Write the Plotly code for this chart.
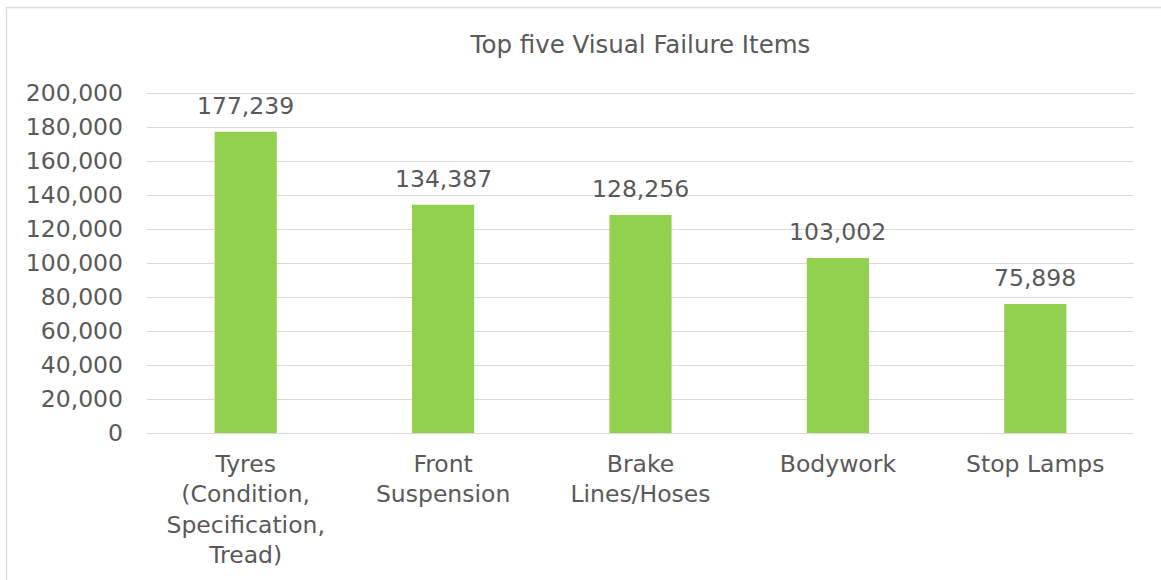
import plotly.graph_objects as go

categories = ["Tyres<br>(Condition,<br>Specification,<br>Tread)", "Front<br>Suspension",
              "Brake<br>Lines/Hoses", "Bodywork", "Stop Lamps"]
values = [177239, 134387, 128256, 103002, 75898]
title = "Top five Visual Failure Items"

W, H = 1161, 580
L, R, T, B = 147, 27, 92, 147
pw, ph = W - L - R, H - T - B

FONT = "DejaVu Sans, Verdana, sans-serif"
TXT = "#595959"
FS = 23.5

fig = go.Figure(go.Bar(
    x=categories, y=values, marker=dict(color="#92D050", line=dict(width=0)),
    width=0.315, hoverinfo="x+y"))

for c, v in zip(categories, values):
    fig.add_annotation(x=c, y=v, text=f"{v:,}", showarrow=False, yanchor="bottom",
                       yshift=10, font=dict(family=FONT, size=FS, color=TXT))

fig.update_layout(
    width=W, height=H,
    margin=dict(l=L, r=R, t=T, b=B),
    paper_bgcolor="white", plot_bgcolor="white",
    title=dict(text=title, x=0.5, xref="paper", y=1 - 44 / H, yanchor="middle",
               font=dict(family=FONT, size=24.5, color=TXT)),
    font=dict(family=FONT, size=FS, color=TXT),
    showlegend=False,
    xaxis=dict(showgrid=False, showline=False, ticks="", tickfont=dict(size=FS, color=TXT),
               ticklabelstandoff=14, tickangle=0),
    yaxis=dict(range=[0, 200700], tickvals=list(range(0, 200001, 20000)), tickformat=",",
               showgrid=True, gridcolor="#D9D9D9", gridwidth=1.3, zeroline=True,
               zerolinecolor="#D9D9D9", zerolinewidth=1.3, showline=False, ticks="",
               ticklabelstandoff=23, tickfont=dict(size=FS, color=TXT)),
    shapes=[dict(type="rect", xref="paper", yref="paper",
                 x0=(6.5 - L) / pw, x1=(W + 20 - L) / pw,
                 y0=-(B + 20) / ph, y1=1 + (T - 7.5) / ph,
                 line=dict(color="#D9D9D9", width=1.3), fillcolor="rgba(0,0,0,0)", layer="below")],
)

fig.write_html("out.html", config={"displayModeBar": False},
               post_script="document.body.style.margin='0';document.body.style.overflow='hidden';")
